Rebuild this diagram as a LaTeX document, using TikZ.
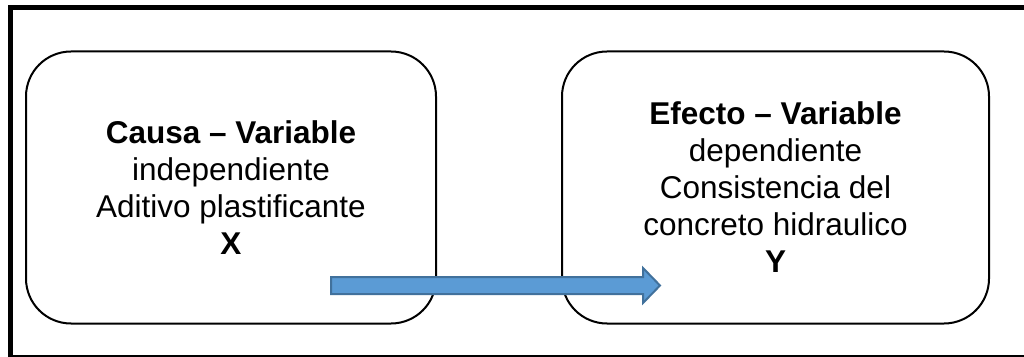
\documentclass[tikz,border=0pt]{standalone}
\usepackage{fontspec}
\setmainfont{Liberation Sans}
\usepackage{xcolor}
\usetikzlibrary{positioning}
\definecolor{arrowblue}{HTML}{5B9BD5}
\definecolor{arrowedge}{HTML}{41719C}
\tikzstyle{varbox} = [rectangle, rounded corners=45pt, minimum width=410pt, minimum height=272pt, text centered, draw=black, line width=2pt, fill=white, align=center, font=\fontsize{31.5}{37}\selectfont]
\tikzstyle{frame} = [line width=5pt, draw=black]
\tikzstyle{blockarrow} = [fill=arrowblue, draw=arrowedge, line width=2pt]

\begin{document}
\begin{tikzpicture}[x=1pt, y=1pt]
    \useasboundingbox (0,0) rectangle (1024,356);
    \clip (0,0) rectangle (1024,356);
    \draw [frame] (10,-1) rectangle (1040,348);
    \node (var1) [varbox] at (231,168.5) {\textbf{Causa – Variable}\\independiente\\Aditivo plastificante\\\textbf{X}};
    \node (var2) [varbox, minimum width=427pt, right=124pt of var1] {\textbf{Efecto – Variable}\\dependiente\\Consistencia del\\concreto hidraulico\\\textbf{Y}};
    \coordinate (tail) at (331,70.5);
    \coordinate (tip) at (660,70.5);
    \draw [blockarrow] ([yshift=8.5]tail) -- ([xshift=-17,yshift=8.5]tip) -- ([xshift=-17,yshift=17.5]tip) -- (tip)
        -- ([xshift=-17,yshift=-17.5]tip) -- ([xshift=-17,yshift=-8.5]tip) -- ([yshift=-8.5]tail) -- cycle;
\end{tikzpicture}
\end{document}
